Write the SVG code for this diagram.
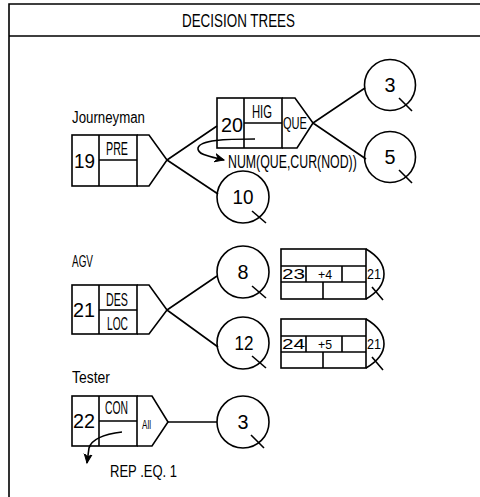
<svg xmlns="http://www.w3.org/2000/svg" width="480" height="497" viewBox="0 0 480 497">
<style>
.s{fill:none;stroke:#000;stroke-width:1.6;stroke-linejoin:miter}
.t{font-family:"Liberation Sans",Arial,sans-serif;fill:#000}
.n{font-size:20px}
.m{font-size:18px}
.k{font-size:16px}
</style>
<defs>
<marker id="ah" markerWidth="12" markerHeight="12" refX="9" refY="6" orient="auto" markerUnits="userSpaceOnUse">
<path d="M0,2 L9,6 L0,10 L3,6 Z" fill="#000" stroke="#000" stroke-width="1"/>
</marker>
</defs>
<rect width="480" height="497" fill="#fff"/>
<g id="frame">
<path class="s" d="M480,4 H9 V497 M9,36 H480"/>
<text class="t" x="182" y="27" font-size="19" textLength="113" lengthAdjust="spacingAndGlyphs">DECISION TREES</text>
</g>

<g id="connectors">
<path class="s" d="M167,160 L217,126 M167,160 L218,194"/>
<path class="s" d="M313,123 L365,88 M313,123 L366,159"/>
<path class="s" d="M167,310 L217,276 M167,310 L218,347"/>
<path class="s" d="M168,422 L217,422"/>
<path class="s" d="M255,139 C225,139 200,140 198,148 C197,155 212,157 224,160" marker-end="url(#ah)"/>
<path class="s" d="M122,432 C105,434 92,438 89,448 L87,463" marker-end="url(#ah)"/>
</g>

<g id="node19">
<text class="t k" x="72" y="123" textLength="73" lengthAdjust="spacingAndGlyphs">Journeyman</text>
<rect class="s" x="72" y="135" width="65" height="51"/>
<path class="s" d="M99,135 V186 M99,160 H137 M137,135 H149 L167,160 L149,186 H137"/>
<text class="t n" x="74" y="168" textLength="21" lengthAdjust="spacingAndGlyphs">19</text>
<text class="t m" x="106" y="155" textLength="22" lengthAdjust="spacingAndGlyphs">PRE</text>
</g>

<g id="node20">
<rect class="s" x="217" y="98" width="65" height="50"/>
<path class="s" d="M244,98 V148 M244,123 H282 M282,98 H295 L313,123 L297,148 H282"/>
<text class="t n" x="221" y="132" textLength="22" lengthAdjust="spacingAndGlyphs">20</text>
<text class="t m" x="252" y="118" textLength="20" lengthAdjust="spacingAndGlyphs">HIG</text>
<text class="t" x="283" y="129" font-size="17" textLength="24" lengthAdjust="spacingAndGlyphs">QUE</text>
<text class="t m" transform="translate(228,168) scale(0.686,1)">NUM(QUE,CUR(NOD))</text>
</g>

<g id="leaf3a">
<circle class="s" cx="390" cy="85" r="25.5"/>
<path class="s" d="M399,98 L412,111"/>
<text class="t n" x="390" y="92" text-anchor="middle" textLength="11" lengthAdjust="spacingAndGlyphs">3</text>
</g>
<g id="leaf5">
<circle class="s" cx="390" cy="157" r="25.5"/>
<path class="s" d="M399,170 L412,183"/>
<text class="t n" x="390" y="164" text-anchor="middle" textLength="11" lengthAdjust="spacingAndGlyphs">5</text>
</g>
<g id="leaf10">
<circle class="s" cx="243" cy="197" r="26"/>
<path class="s" d="M252,211 L266,223"/>
<text class="t n" x="243" y="204" text-anchor="middle" textLength="21" lengthAdjust="spacingAndGlyphs">10</text>
</g>

<g id="node21">
<text class="t k" x="72" y="267" textLength="21" lengthAdjust="spacingAndGlyphs">AGV</text>
<rect class="s" x="72" y="285" width="65" height="49"/>
<path class="s" d="M99,285 V334 M99,310 H137 M137,285 H149 L167,310 L149,334 H137"/>
<text class="t n" x="73" y="317" textLength="22" lengthAdjust="spacingAndGlyphs">21</text>
<text class="t m" x="106" y="306" textLength="22" lengthAdjust="spacingAndGlyphs">DES</text>
<text class="t m" x="107" y="330" textLength="21" lengthAdjust="spacingAndGlyphs">LOC</text>
</g>

<g id="leaf8">
<circle class="s" cx="243" cy="272" r="26"/>
<path class="s" d="M252,286 L266,298"/>
<text class="t n" x="243" y="279" text-anchor="middle" textLength="11" lengthAdjust="spacingAndGlyphs">8</text>
</g>
<g id="leaf12">
<circle class="s" cx="243" cy="343" r="26"/>
<path class="s" d="M252,356 L266,368"/>
<text class="t n" x="244" y="350" text-anchor="middle" textLength="19" lengthAdjust="spacingAndGlyphs">12</text>
</g>

<g id="recordA">
<rect class="s" x="281" y="249" width="85" height="50"/>
<path class="s" d="M281,266 H366 M281,282 H366 M306,266 V282 M342,266 V282 M323,282 V299 M366,249 C378,256 384,265 384,274 C384,284 378,292 366,299 M372,287 L383,300"/>
<text class="t" x="282" y="279" font-size="15" textLength="23" lengthAdjust="spacingAndGlyphs">23</text>
<text class="t" x="318" y="279" font-size="13" textLength="14" lengthAdjust="spacingAndGlyphs">+4</text>
<text class="t" x="367" y="279" font-size="15" textLength="14" lengthAdjust="spacingAndGlyphs">21</text>
</g>
<g id="recordB">
<rect class="s" x="281" y="319" width="85" height="49"/>
<path class="s" d="M281,336 H366 M281,352 H366 M306,336 V352 M342,336 V352 M323,352 V368 M366,319 C378,326 384,335 384,344 C384,354 378,361 366,368 M372,357 L383,370"/>
<text class="t" x="282" y="349" font-size="15" textLength="23" lengthAdjust="spacingAndGlyphs">24</text>
<text class="t" x="318" y="349" font-size="13" textLength="14" lengthAdjust="spacingAndGlyphs">+5</text>
<text class="t" x="367" y="349" font-size="15" textLength="14" lengthAdjust="spacingAndGlyphs">21</text>
</g>

<g id="node22">
<text class="t k" x="72" y="383" textLength="38" lengthAdjust="spacingAndGlyphs">Tester</text>
<rect class="s" x="72" y="396" width="65" height="50"/>
<path class="s" d="M99,396 V446 M99,421 H137 M137,396 H152 L168,422 L152,446 H137"/>
<text class="t n" x="73" y="428" textLength="22" lengthAdjust="spacingAndGlyphs">22</text>
<text class="t m" x="105" y="414" textLength="23" lengthAdjust="spacingAndGlyphs">CON</text>
<text class="t" x="142" y="429" font-size="12" textLength="9" lengthAdjust="spacingAndGlyphs">All</text>
<text class="t" x="110" y="477" font-size="17" textLength="67" lengthAdjust="spacingAndGlyphs">REP .EQ. 1</text>
</g>

<g id="leaf3b">
<circle class="s" cx="243" cy="422" r="26"/>
<path class="s" d="M251,435 L264,448"/>
<text class="t n" x="243" y="429" text-anchor="middle" textLength="11" lengthAdjust="spacingAndGlyphs">3</text>
</g>
</svg>
